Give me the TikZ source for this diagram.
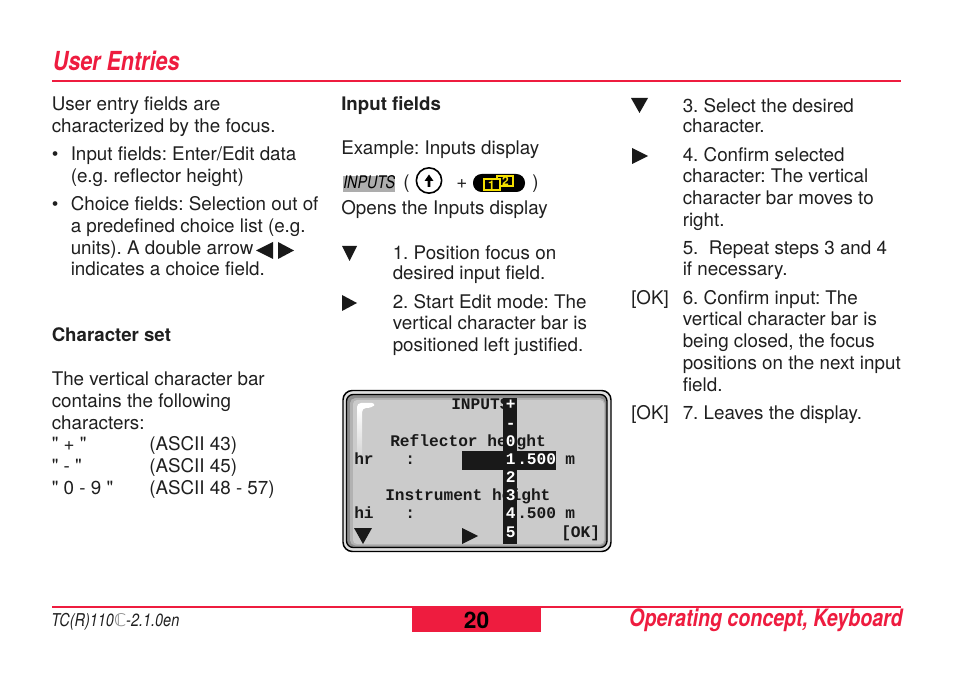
\documentclass[tikz,border=0pt]{standalone}
\usepackage{fontspec}
\frenchspacing
\setmainfont{TeX Gyre Heros}
\setmonofont{Liberation Mono}
\newfontfamily\plainf{TeX Gyre Heros}
\newfontfamily\condbi[FakeStretch=0.82,BoldFont={TeX Gyre Heros Bold},ItalicFont={TeX Gyre Heros Bold Italic}]{TeX Gyre Heros}
\newfontfamily\condi[FakeStretch=0.82,ItalicFont={TeX Gyre Heros Italic}]{TeX Gyre Heros}
\newfontfamily\symf{DejaVu Sans}
\definecolor{brandred}{HTML}{EE1C3F}
\definecolor{lcd}{HTML}{CBCBCB}
\definecolor{rim}{HTML}{8A8A8A}
\definecolor{keyyellow}{HTML}{F5E000}
\tikzset{
  x=0.75pt,y=-0.75pt,
  txt/.style={anchor=base west,inner sep=0pt,font=\fontsize{14.05bp}{15bp}\selectfont,text=black!88},
  bold/.style={txt,font=\fontsize{13.95bp}{15bp}\selectfont\bfseries},
  lcdtxt/.style={anchor=base west,inner sep=0pt,font=\fontsize{12.1bp}{14bp}\selectfont\ttfamily\bfseries,text=black!90},
  lcdinv/.style={lcdtxt,text=white},
  head/.style={anchor=base west,inner sep=0pt,text=brandred,font=\fontsize{19.6bp}{22bp}\selectfont\condbi\bfseries\itshape},
  rule/.style={brandred,line width=1.5pt},
  tri/.style={fill=black!90,draw=none}
}
\begin{document}
\begin{tikzpicture}
\useasboundingbox (0,0) rectangle (954,677);
% header
\node[head] (title) at (52.5,71) {User Entries};
\draw[rule] (52,81) -- (901,81);
% left column
\node[txt] (l1) at (51.5,110.5) {User entry fields are};
\node[txt] (l2) at (51.5,132.5) {characterized by the focus.};
\node[txt] (l3a) at (51.5,160.5) {•};
\node[txt] (l3) at (70.5,160.5) {Input fields: Enter/Edit data};
\node[txt] (l4) at (70.5,182.5) {(e.g. reflector height)};
\node[txt] (l5a) at (51.5,210.5) {•};
\node[txt] (l5) at (70.5,210.5) {Choice fields: Selection out of};
\node[txt] (l6) at (70.5,232.5) {a predefined choice list (e.g.};
\node[txt] (l7) at (70.5,254.5) {units). A double arrow};
\node[txt] (l8) at (70.5,275.5) {indicates a choice field.};
\fill[tri] (256,250.5) -- (273,242) -- (273,259) -- cycle;
\fill[tri] (294,250.5) -- (278,242) -- (278,259) -- cycle;
\node[bold] (l9) at (51.5,341.5) {Character set};
\node[txt] (l10) at (51.5,385.5) {The vertical character bar};
\node[txt] (l11) at (51.5,407.5) {contains the following};
\node[txt] (l12) at (51.5,429.5) {characters:};
\node[txt] (l13) at (51.5,450.5) {\plainf " + "};
\node[txt] (l13b) at (149,450.5) {(ASCII 43)};
\node[txt] (l14) at (51.5,472.5) {\plainf " - "};
\node[txt] (l14b) at (149,472.5) {(ASCII 45)};
\node[txt] (l15) at (51.5,494.5) {\plainf " 0 - 9 "};
\node[txt] (l15b) at (149,494.5) {(ASCII 48 - 57)};
% middle column
\node[bold] (m1) at (341,110.5) {Input fields};
\node[txt] (m2) at (341,154.5) {Example: Inputs display};
\fill[black!32] (343,176) rectangle (395,192);
\node[anchor=base west,inner sep=0pt,font=\fontsize{13bp}{15bp}\selectfont\condi\itshape] (m3) at (343,189) {INPUTS};
\node[txt] (m3a) at (403,188.5) {(};
\node[draw=black,line width=1.2pt,circle,minimum size=19pt,inner sep=0pt] (upkey) at (429,180.5) {};
\fill[black] (429,174.5) -- (433.5,181) -- (430.4,181) -- (430.4,187) -- (427.6,187) -- (427.6,181) -- (424.5,181) -- cycle;
\node[txt] (m3b) at (456,188.5) {+};
\node[fill=black,rounded corners=6.5pt,minimum width=39pt,minimum height=13.5pt,inner sep=0pt] (fnkey) at (499,183) {};
\draw[keyyellow,line width=0.8pt,fill=black] (497,176) rectangle (513,186);
\draw[keyyellow,line width=0.8pt,fill=black] (484,179) rectangle (500,190);
\node[anchor=center,inner sep=0pt,text=keyyellow,font=\fontsize{9bp}{9bp}\selectfont\bfseries] (k1) at (491.5,184.8) {1};
\node[anchor=center,inner sep=0pt,text=keyyellow,font=\fontsize{9bp}{9bp}\selectfont\bfseries] (k2) at (505.5,180.8) {2};
\node[txt] (m3c) at (532,188.5) {)};
\node[txt] (m4) at (341,214.5) {Opens the Inputs display};
\fill[tri] (342,246) -- (357,246) -- (349.5,261) -- cycle;
\node[txt] (m5) at (392.5,259.5) {1. Position focus on};
\node[txt] (m6) at (392.5,279.5) {desired input field.};
\fill[tri] (342,295) -- (357,303) -- (342,311) -- cycle;
\node[txt] (m7) at (392.5,308.5) {2. Start Edit mode: The};
\node[txt] (m8) at (392.5,329.5) {vertical character bar is};
\node[txt] (m9) at (392.5,351.5) {positioned left justified.};
% screen
\draw[black,line width=1.1pt,fill=black!12,rounded corners=7pt] (343,390.5) rectangle (611,551.5);
\draw[black,line width=1pt,fill=black!45,rounded corners=5pt] (346.5,394.5) rectangle (607,547.5);
\fill[black!30,rounded corners=4pt] (350,398) rectangle (605,545.5);
\fill[lcd,rounded corners=3pt] (353,400) rectangle (604,544);
\shade[top color=white,bottom color=lcd] (357,408) rectangle (362,468);
\fill[white,rounded corners=3pt] (357,412) -- (357,403) -- (376,403) -- (372,408) -- (362,408) -- (362,412) -- cycle;
\node[lcdtxt] (s1) at (451,409.5) {INPUTS};
\node[lcdtxt] (s2) at (390,446.5) {Reflector height};
\node[lcdtxt] (s3) at (354,464.5) {hr};
\node[lcdtxt] (s3a) at (405,464.5) {:};
\fill[black!90] (462,451) rectangle (556,470);
\node[lcdinv] (s3b) at (517,464.5) {.500};
\node[lcdtxt] (s3c) at (565,464.5) {m};
\node[lcdtxt] (s4) at (385,500.5) {Instrument height};
\node[lcdtxt] (s5) at (354,518.5) {hi};
\node[lcdtxt] (s5a) at (405,518.5) {:};
\node[lcdtxt] (s5b) at (517,518.5) {.500};
\node[lcdtxt] (s5c) at (565,518.5) {m};
\node[lcdtxt] (s6) at (561,537.5) {[OK]};
\fill[tri] (354,528) -- (372,528) -- (363,544) -- cycle;
\fill[tri] (462,528) -- (478,536) -- (462,544) -- cycle;
\fill[black!90] (503,398) rectangle (517,544);
\node[lcdinv] (b1) at (505.5,409.5) {+};
\node[lcdinv] (b2) at (505.5,428.5) {-};
\node[lcdinv] (b3) at (505.5,446.5) {0};
\node[lcdinv] (b4) at (505.5,464.5) {1};
\node[lcdinv] (b5) at (505.5,482.5) {2};
\node[lcdinv] (b6) at (505.5,500.5) {3};
\node[lcdinv] (b7) at (505.5,518.5) {4};
\node[lcdinv] (b8) at (505.5,537.5) {5};
% right column
\fill[tri] (631,98) -- (648,98) -- (639.5,113) -- cycle;
\node[txt] (r1) at (682.5,112.5) {3. Select the desired};
\node[txt] (r2) at (682.5,132.5) {character.};
\fill[tri] (632,148) -- (648,156) -- (632,164) -- cycle;
\node[txt] (r3) at (682.5,161.5) {4. Confirm selected};
\node[txt] (r4) at (682.5,182.5) {character: The vertical};
\node[txt] (r5) at (682.5,204.5) {character bar moves to};
\node[txt] (r6) at (682.5,226.5) {right.};
\node[txt] (r7) at (682.5,254.5) {5.\ \ Repeat steps 3 and 4};
\node[txt] (r8) at (682.5,275.5) {if necessary.};
\node[txt] (r9a) at (631,304.5) {[OK]};
\node[txt] (r9) at (682.5,304.5) {6. Confirm input: The};
\node[txt] (r10) at (682.5,325.5) {vertical character bar is};
\node[txt] (r11) at (682.5,347.5) {being closed, the focus};
\node[txt] (r12) at (682.5,369.5) {positions on the next input};
\node[txt] (r13) at (682.5,391.5) {field.};
\node[txt] (r14a) at (631,419.5) {[OK]};
\node[txt] (r14) at (682.5,419.5) {7. Leaves the display.};
% footer
\draw[rule] (52,606.5) -- (901,606.5);
\fill[brandred] (412,608) rectangle (541,632);
\node[anchor=center,inner sep=0pt,font=\fontsize{17bp}{19bp}\selectfont\bfseries] (page) at (476.5,620) {20};
\node[anchor=base west,inner sep=0pt,font=\fontsize{13.2bp}{15bp}\selectfont\condi\itshape,text=black!88] (foot) at (51,626) {TC(R)110{\symf\fontsize{13bp}{15bp}\selectfont\color{black!45}ℂ}-2.1.0en};
\node[head,anchor=base east,font=\fontsize{17.9bp}{22bp}\selectfont\condbi\bfseries\itshape] (sect) at (903,626.5) {Operating concept, Keyboard};
\end{tikzpicture}
\end{document}
